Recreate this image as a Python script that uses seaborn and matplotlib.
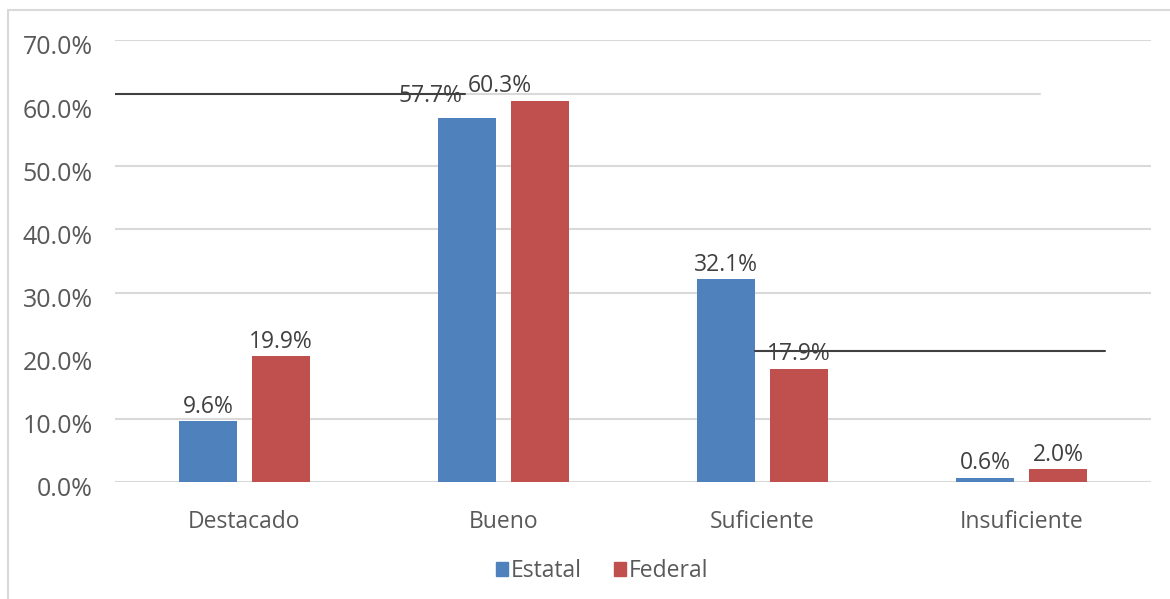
import pandas as pd
import matplotlib.pyplot as plt
import matplotlib.patches as mpatches
import matplotlib.transforms as mtransforms
import seaborn as sns

categorias = ["Destacado", "Bueno", "Suficiente", "Insuficiente"]
estatal = [9.6, 57.7, 32.1, 0.6]
federal = [19.9, 60.3, 17.9, 2.0]
series = ["Estatal", "Federal"]
colores = ["#4F81BD", "#C0504D"]

df = pd.DataFrame({
    "categoria": categorias * 2,
    "valor": estatal + federal,
    "serie": ["Estatal"] * 4 + ["Federal"] * 4,
})

sns.set_style("white")
plt.rcParams['font.family'] = ['Open Sans', 'DejaVu Sans']

fig = plt.figure(figsize=(11.7, 5.99), dpi=100)
ax = fig.add_axes([115 / 1170, 1 - 482 / 599, 1036 / 1170, 442 / 599])

sns.barplot(data=df, x="categoria", y="valor", hue="serie", order=categorias,
            hue_order=series, palette=colores, width=0.564, gap=0.2,
            saturation=1, linewidth=0, ax=ax, legend=False, zorder=3)

ax.set_xlim(-0.5, 3.5)
ax.set_ylim(0, 70)
ax.set_yticks(range(0, 71, 10))
ax.set_yticklabels([f"{t:.1f}%" for t in range(0, 71, 10)])
ax.set_xlabel("")
ax.set_ylabel("")
for s in ax.spines.values():
    s.set_visible(False)
ax.tick_params(axis="y", length=0, pad=16, labelsize=18, labelcolor="#595959")
ax.tick_params(axis="x", length=0, pad=20, labelsize=16.5, labelcolor="#595959")

# las etiquetas del eje y quedan un poco por debajo de la linea
bajar = mtransforms.ScaledTranslation(0, -5 / 100, fig.dpi_scale_trans)
for lab in ax.get_yticklabels():
    lab.set_transform(lab.get_transform() + bajar)

# lineas de cuadricula (las de 60% y 20% aparecen desplazadas en el original)
for t in [0, 10, 30, 40, 50, 70]:
    ax.axhline(t, color="#D9D9D9", lw=1.5, zorder=1)
ax.axhline(61.5, xmin=350 / 1036, xmax=925 / 1036, color="#D9D9D9", lw=1.5, zorder=1)
ax.axhline(61.5, xmin=0, xmax=350 / 1036, color="#404040", lw=1.5, zorder=5)
ax.axhline(20.8, xmin=640 / 1036, xmax=990 / 1036, color="#404040", lw=1.5, zorder=5)

# etiquetas de datos (desplazamientos en puntos: (categoria, serie))
ajustes = {(1, 0): (-26, 5), (1, 1): (-29, 0)}
for i, cont in enumerate(ax.containers):
    for j, bar in enumerate(cont):
        dx, dy = ajustes.get((j, i), (0, 0))
        ax.annotate(f"{bar.get_height():.1f}%",
                    (bar.get_x() + bar.get_width() / 2, bar.get_height()),
                    xytext=(dx, 2 + dy), textcoords="offset points",
                    ha="center", va="bottom", fontsize=16.5, color="#404040", zorder=6)

handles = [mpatches.Patch(color=c, label=s) for s, c in zip(series, colores)]
fig.legend(handles=handles, loc="center", bbox_to_anchor=(602 / 1170, 1 - 571 / 599),
           ncol=2, frameon=False, fontsize=16.5, handlelength=0.55, handleheight=0.55,
           handletextpad=0.1, columnspacing=1.4, labelcolor="#595959")

fig.add_artist(mpatches.Rectangle((8 / 1170, -0.1), 1.2, 1.1 - 10 / 599,
                                  transform=fig.transFigure, fill=False,
                                  edgecolor="#D9D9D9", lw=1.5))

fig.savefig("out.png", dpi=100)
